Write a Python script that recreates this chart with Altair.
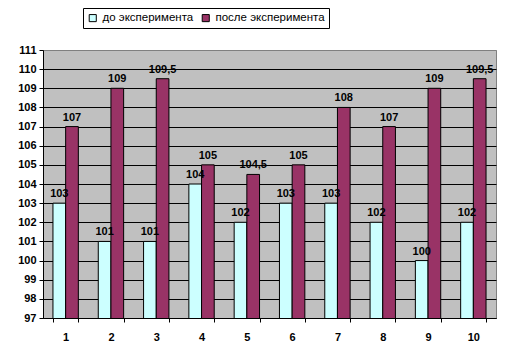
import altair as alt
import pandas as pd

categories = ["1", "2", "3", "4", "5", "6", "7", "8", "9", "10"]
before = [103, 101, 101, 104, 102, 103, 103, 102, 100, 102]
after = [107, 109, 109.5, 105, 104.5, 105, 108, 107, 109, 109.5]
series = ["до эксперимента", "после эксперимента"]

rows = []
for c, b, a in zip(categories, before, after):
    for s, v in ((series[0], b), (series[1], a)):
        rows.append({"cat": c, "series": s, "value": v,
                     "label": (f"{v:g}").replace(".", ",")})
df = pd.DataFrame(rows)

FONT = "Liberation Sans"

x = alt.X("cat:N", sort=categories, title=None,
          scale=alt.Scale(paddingInner=0.44, paddingOuter=0.22),
          axis=alt.Axis(labelAngle=0, tickBand="extent", domainColor="black",
                        tickColor="black", tickSize=4, labelFont=FONT,
                        labelFontSize=11, labelFontWeight="bold",
                        labelColor="black", labelPadding=9, grid=False))
y = alt.Y("value:Q", title=None,
          scale=alt.Scale(domain=[97, 111], nice=False, zero=False),
          axis=alt.Axis(values=list(range(97, 112)),
                        gridColor={"condition": {"test": "datum.value === 111",
                                                 "value": "#808080"},
                                   "value": "black"},
                        gridOpacity=1, domainColor="black", tickColor="black",
                        tickSize=4, labelFont=FONT, labelFontSize=11,
                        labelFontWeight="bold", labelColor="black",
                        labelPadding=3, labelOverlap=False))

color = alt.Color("series:N", sort=series,
                  scale=alt.Scale(domain=series, range=["#CCFFFF", "#993366"]),
                  legend=alt.Legend(title=None, orient="none", legendX=40,
                                    legendY=-42, direction="horizontal",
                                    strokeColor="black", padding=4,
                                    symbolType="square", symbolSize=50,
                                    symbolStrokeColor="black",
                                    symbolStrokeWidth=1, labelFont=FONT,
                                    labelFontSize=11.5, labelColor="black",
                                    columnPadding=6, symbolOpacity=1))

base = alt.Chart(df).encode(
    x=x, y=y, xOffset=alt.XOffset("series:N", sort=series))

bars = base.mark_bar(stroke="black", strokeWidth=1, opacity=1,
                     clip=True).encode(color=color)
text = base.mark_text(dy=-9, font=FONT, fontSize=11, fontWeight="bold",
                      color="black").encode(text="label:N")

chart = alt.layer(bars, text).properties(
    width=453, height=268,
    autosize=alt.AutoSizeParams(type="none"),
    padding={"left": 35, "top": 42, "right": 23, "bottom": 35},
    background="white",
).configure_view(fill="#C0C0C0", stroke="#808080", strokeWidth=1)

chart.save("out.html", embed_options={"renderer": "svg", "actions": False})
